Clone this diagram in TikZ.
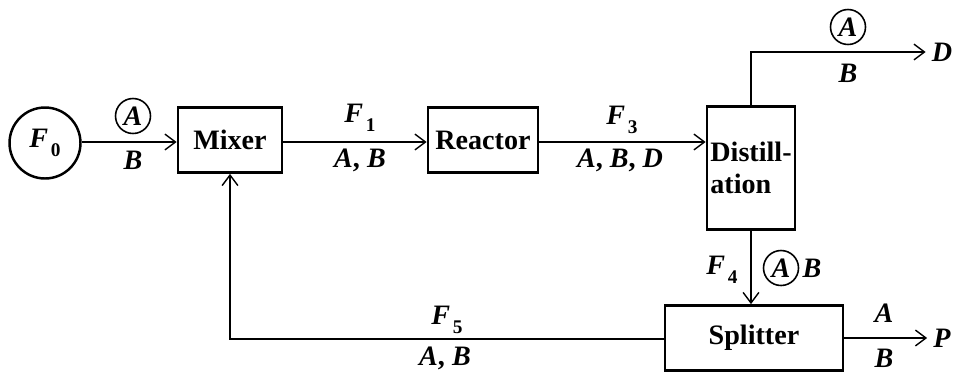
\documentclass[tikz,border=0pt]{standalone}
\usepackage{fontspec}
\setmainfont{Liberation Serif}
\usetikzlibrary{arrows.meta, positioning}

\newcommand{\stream}[1]{\textit{F}\kern1.5pt\raisebox{-0.7ex}{\fontsize{11}{12}\selectfont #1}}

\begin{document}
\begin{tikzpicture}[
  x=0.02cm, y=-0.02cm,
  every node/.style={font=\fontsize{16}{18}\selectfont\bfseries},
  unit/.style={rectangle, draw, line width=1.6pt, minimum height=1.3cm},
  flow/.style={-{Straight Barb[length=6pt, width=9pt]}, line width=0.8pt},
  tag/.style={circle, draw, line width=0.9pt, inner sep=0pt, minimum size=0.7cm},
]
  \useasboundingbox (0,0) rectangle (953,373);

  % units
  \node[circle, draw, line width=1.4pt, minimum size=1.42cm, inner sep=0pt] (F0) at (45,143) {\stream{0}};
  \node[unit, minimum width=2.08cm] (mixer) at (230,140) {Mixer};
  \node[unit, minimum width=2.2cm] (reactor) at (483,140) {Reactor};
  \node[unit, minimum width=1.76cm, minimum height=2.46cm, inner sep=1pt, align=left] (distill) at (751,168) {Distill-\\ation};
  \node[unit, minimum width=3.56cm] (splitter) at (754,338) {Splitter};
  \node (D) at (942,52) {\textit{D}};
  \node (P) at (942,338) {\textit{P}};

  % streams
  \draw[flow] (F0.east |- 0,142) -- (mixer.west |- 0,142);
  \draw[flow] (mixer.east |- 0,142) -- (reactor.west |- 0,142);
  \draw[flow] (reactor.east |- 0,142) -- (distill.west |- 0,142);
  \draw[flow] (distill.north) |- (D.west);
  \draw[flow] (distill.south) -- (distill.south |- splitter.north);
  \draw[flow] (splitter.east) -- (P.west);
  \draw[flow] (splitter.west |- 0,339) -| (mixer.south);

  % stream labels
  \node[tag] (a0) at (133,116) {\textit{A}};
  \node (b0) at (133,160) {\textit{B}};
  \node (f1) at (360,118) {\stream{1}};
  \node (ab1) at (360,160) {\textit{A}, \textit{B}};
  \node (f3) at (622,120) {\stream{3}};
  \node (abd3) at (620,160) {\textit{A}, \textit{B}, \textit{D}};
  \node[tag] (aD) at (848,27) {\textit{A}};
  \node (bD) at (848,73) {\textit{B}};
  \node (f4) at (722,270) {\stream{4}};
  \node[tag] (a4) at (781,268) {\textit{A}};
  \node (b4) at (812,268) {\textit{B}};
  \node (aP) at (884,313) {\textit{A}};
  \node (bP) at (884,358) {\textit{B}};
  \node (f5) at (447,320) {\stream{5}};
  \node (ab5) at (445,358) {\textit{A}, \textit{B}};
\end{tikzpicture}
\end{document}
